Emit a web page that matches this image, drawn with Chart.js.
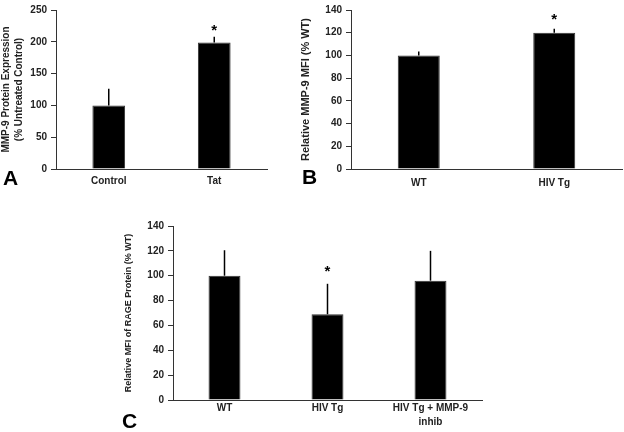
<!DOCTYPE html>
<html>
<head>
<meta charset="utf-8">
<script src="https://cdn.jsdelivr.net/npm/chart.js@4.4.0/dist/chart.umd.min.js"></script>
<style>
body{margin:0;background:#fff;width:624px;height:432px;position:relative;overflow:hidden}
canvas{position:absolute}
.lbl{position:absolute;font:bold 21px "Liberation Sans",Arial,sans-serif;line-height:21px;color:#000}
</style>
</head>
<body>
<canvas id="chartA" width="275" height="200" style="left:0;top:0"></canvas>
<canvas id="chartB" width="334" height="200" style="left:290px;top:0"></canvas>
<canvas id="chartC" width="368" height="220" style="left:120px;top:212px"></canvas>
<div class="lbl" style="left:3px;top:167px">A</div>
<div class="lbl" style="left:302px;top:166px">B</div>
<div class="lbl" style="left:122px;top:410px">C</div>
<script>
// panel A
const labelsA = ['Control', 'Tat'];
const valuesA = [100, 199];
const errorsA = [26, 9];
const starsA = [null, 224];
const ticksA = {min: 0, max: 250, step: 50};

// panel B
const labelsB = ['WT', 'HIV Tg'];
const valuesB = [100, 120];
const errorsB = [3.5, 3.5];
const starsB = [null, 135];
const ticksB = {min: 0, max: 140, step: 20};

// panel C
const labelsC = ['WT', 'HIV Tg', ['HIV Tg + MMP-9', 'inhib']];
const valuesC = [100, 69, 96];
const errorsC = [20.5, 24.5, 24];
const starsC = [null, 107, null];
const ticksC = {min: 0, max: 140, step: 20};

const FONT = '"Liberation Sans", Arial, sans-serif';
const INK = '#222';

// error bars + significance stars
const extras = {
    id: 'extras',
    afterDatasetsDraw(chart, args, o) {
        const ctx = chart.ctx;
        const y = chart.scales.y;
        const bars = chart.getDatasetMeta(0).data;
        ctx.save();
        ctx.strokeStyle = '#000';
        ctx.lineWidth = 1.5;
        bars.forEach((bar, i) => {
            const v = o.values[i];
            ctx.beginPath();
            ctx.moveTo(bar.x, y.getPixelForValue(v));
            ctx.lineTo(bar.x, y.getPixelForValue(v + o.errors[i]));
            ctx.stroke();
            if (o.stars[i] != null) {
                ctx.fillStyle = '#000';
                ctx.font = 'bold 15px ' + FONT;
                ctx.textAlign = 'center';
                ctx.textBaseline = 'alphabetic';
                ctx.fillText('*', bar.x, y.getPixelForValue(o.stars[i]) + 8.5);
            }
        });
        ctx.restore();
    }
};

function makeChart(id, labels, values, errors, stars, t, cfg) {
    const ctx = document.getElementById(id).getContext('2d');
    return new Chart(ctx, {
        type: 'bar',
        data: {
            labels: labels,
            datasets: [{
                data: values,
                backgroundColor: '#000',
                borderColor: '#333',
                borderWidth: 1,
                categoryPercentage: 1,
                barPercentage: 0.31
            }]
        },
        options: {
            responsive: false,
            animation: false,
            devicePixelRatio: 1,
            layout: {padding: cfg.pad},
            plugins: {
                legend: {display: false},
                tooltip: {enabled: false},
                extras: {values: values, errors: errors, stars: stars}
            },
            scales: {
                x: {
                    grid: {display: false, drawTicks: false},
                    border: {display: true, color: '#333', width: 1},
                    ticks: {color: INK, padding: cfg.xPad, maxRotation: 0, autoSkip: false,
                        font: {family: FONT, weight: 'bold', size: 10, lineHeight: cfg.xLine}},
                    afterFit: s => { s.height = cfg.xH; }
                },
                y: {
                    min: t.min,
                    max: t.max,
                    grid: {display: true, drawOnChartArea: false, drawTicks: true, tickLength: 5, color: '#333'},
                    border: {display: true, color: '#333', width: 1},
                    ticks: {stepSize: t.step, color: INK, padding: 4,
                        font: {family: FONT, weight: 'bold', size: 10}},
                    title: {display: true, text: cfg.title, color: INK,
                        padding: {top: cfg.tPad, bottom: 0},
                        font: {family: FONT, weight: 'bold', size: cfg.tSize, lineHeight: cfg.tLine}},
                    afterFit: s => { s.width = cfg.yW; }
                }
            }
        },
        plugins: [extras]
    });
}

makeChart('chartA', labelsA, valuesA, errorsA, starsA, ticksA, {
    pad: {top: 7, right: 8, left: 0, bottom: 0}, yW: 56, xH: 31, xPad: 6, xLine: 1.2,
    title: ['MMP-9 Protein Expression', '(% Untreated Control)'], tSize: 10, tLine: 1.25, tPad: 0
});
makeChart('chartB', labelsB, valuesB, errorsB, starsB, ticksB, {
    pad: {top: 7, right: 2, left: 0, bottom: 0}, yW: 61, xH: 31, xPad: 8, xLine: 1.2,
    title: 'Relative MMP-9 MFI (% WT)', tSize: 11, tLine: 1.2, tPad: 9
});
makeChart('chartC', labelsC, valuesC, errorsC, starsC, ticksC, {
    pad: {top: 14, right: 6, left: 0, bottom: 0}, yW: 53, xH: 32, xPad: 1, xLine: 1.4,
    title: 'Relative MFI of RAGE Protein (% WT)', tSize: 9, tLine: 1.2, tPad: 3.5
});
</script>
</body>
</html>
